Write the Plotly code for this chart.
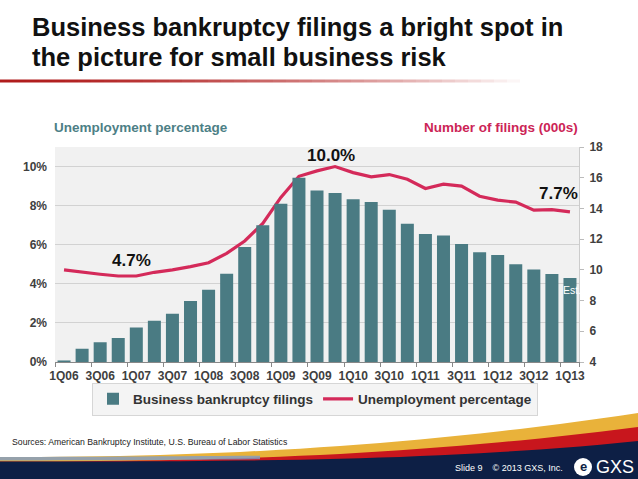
import plotly.graph_objects as go

quarters = ["1Q06","2Q06","3Q06","4Q06","1Q07","2Q07","3Q07","4Q07",
            "1Q08","2Q08","3Q08","4Q08","1Q09","2Q09","3Q09","4Q09",
            "1Q10","2Q10","3Q10","4Q10","1Q11","2Q11","3Q11","4Q11",
            "1Q12","2Q12","3Q12","4Q12","1Q13"]
filings = [4.1, 4.87, 5.28, 5.56, 6.25, 6.69, 7.14, 7.97,
           8.71, 9.75, 11.49, 12.9, 14.3, 16.0, 15.17, 15.0,
           14.59, 14.42, 13.92, 13.0, 12.33, 12.24, 11.68, 11.14,
           10.97, 10.36, 10.03, 9.73, 9.47]
unemployment = [4.71, 4.59, 4.49, 4.40, 4.40, 4.59, 4.71, 4.88,
                5.08, 5.56, 6.19, 7.09, 8.42, 9.5, 9.78, 10.0,
                9.69, 9.47, 9.59, 9.35, 8.88, 9.10, 9.0, 8.48,
                8.28, 8.18, 7.77, 7.8, 7.68]
unemployment = [v / 100 for v in unemployment]
tick_labels = quarters[::2]

W, H = 638, 479
L, R, T, B = 55, 59, 147, 117
PW, PH = W - L - R, H - T - B
def px(x):
    return (x - L) / PW
def py(y):
    return (H - B - y) / PH

BAR = "#4a7b83"
LINE = "#d42a5a"

fig = go.Figure()
fig.add_trace(go.Bar(x=quarters, y=filings, yaxis="y2", marker_color=BAR,
                     marker_line_width=0, name="<b>Business bankruptcy filings</b>"))
fig.add_trace(go.Scatter(x=quarters, y=unemployment, yaxis="y", mode="lines",
                         line=dict(color=LINE, width=3.2), name="<b>Unemployment percentage</b>"))

shapes = []
# title underline gradient
n = 40
for i in range(n):
    x0 = i * 520 / n
    x1 = (i + 1) * 520 / n
    op = max(0.0, 1 - (i / n) ** 1.6)
    shapes.append(dict(type="rect", xref="paper", yref="paper",
                       x0=px(x0), x1=px(x1), y0=py(82.5), y1=py(79.5),
                       fillcolor="#b01c1c", opacity=op, line_width=0, layer="above"))
# footer: navy band, red and gold swoosh
def path(points_top, points_bottom):
    pts = points_top + points_bottom[::-1]
    s = "M " + " L ".join(f"{px(x):.5f},{py(y):.5f}" for x, y in pts) + " Z"
    return s
xs = list(range(0, 639, 20)) + [638]
def curve(x, y_left, y_right, power):
    t = x / 638
    return y_left + (y_right - y_left) * t ** power
gold_top = [(x, curve(x, 457, 413, 2.2)) for x in xs]
red_top = [(x, curve(x, 461.5, 427, 2.4)) for x in xs]
navy_top = [(x, curve(x, 461.5, 441, 3.2)) for x in xs]
bottom = [(x, 480) for x in xs]
shapes.append(dict(type="path", xref="paper", yref="paper", path=path(gold_top, bottom),
                   fillcolor="#e9b23a", line_width=0, layer="above"))
shapes.append(dict(type="path", xref="paper", yref="paper", path=path(red_top, bottom),
                   fillcolor="#c8161d", line_width=0, layer="above"))
shapes.append(dict(type="path", xref="paper", yref="paper", path=path(navy_top, bottom),
                   fillcolor="#0d1f45", line_width=0, layer="above"))
blue_top = [(x, curve(x, 457, 452, 1.5)) for x in range(0, 261, 20)]
blue_bot = [(x, curve(x, 460.5, 456, 1.5)) for x in range(0, 261, 20)]
shapes.append(dict(type="path", xref="paper", yref="paper", path=path(blue_top, blue_bot),
                   fillcolor="#7f9cc8", opacity=0.8, line_width=0, layer="above"))
# logo circle
shapes.append(dict(type="circle", xref="paper", yref="paper",
                   x0=px(574), x1=px(592), y0=py(476), y1=py(458),
                   fillcolor="white", line_width=0, layer="above"))

F = "Liberation Sans, Arial, sans-serif"
ann = []
ann.append(dict(text="<b>Business bankruptcy filings a bright spot in</b>", x=px(30), y=py(27),
                xanchor="left", yanchor="middle", font=dict(size=25.5, color="#111111", family=F)))
ann.append(dict(text="<b>the picture for small business risk</b>", x=px(30), y=py(57),
                xanchor="left", yanchor="middle", font=dict(size=25.5, color="#111111", family=F)))
ann.append(dict(text="<b>Unemployment percentage</b>", x=px(52), y=py(128),
                xanchor="left", yanchor="middle", font=dict(size=13.5, color="#4d7f86", family=F)))
ann.append(dict(text="<b>Number of filings (000s)</b>", x=px(580), y=py(128),
                xanchor="right", yanchor="middle", font=dict(size=13.5, color="#cc2456", family=F)))
ann.append(dict(text="<b>4.7%</b>", x=px(131), y=py(260), xanchor="center", yanchor="middle",
                font=dict(size=17, color="#111111", family=F)))
ann.append(dict(text="<b>10.0%</b>", x=px(331), y=py(155), xanchor="center", yanchor="middle",
                font=dict(size=17, color="#111111", family=F)))
ann.append(dict(text="<b>7.7%</b>", x=px(580), y=py(193), xanchor="right", yanchor="middle",
                font=dict(size=17, color="#111111", family=F)))
ann.append(dict(text="Est.", x=px(572), y=py(290), xanchor="center", yanchor="middle",
                font=dict(size=10.5, color="white", family=F)))
ann.append(dict(text="Sources: American Bankruptcy Institute, U.S. Bureau of Labor Statistics",
                x=px(10), y=py(442), xanchor="left", yanchor="middle",
                font=dict(size=8.7, color="#222222", family="Liberation Sans Narrow, Liberation Sans, Arial")))
ann.append(dict(text="Slide 9&nbsp;&nbsp;&nbsp;&nbsp;© 2013 GXS, Inc.", x=px(565), y=py(468),
                xanchor="right", yanchor="middle",
                font=dict(size=9, color="white", family="Liberation Sans Narrow, Liberation Sans, Arial")))
ann.append(dict(text="<b>e</b>", x=px(583), y=py(466.5), xanchor="center", yanchor="middle",
                font=dict(size=13, color="#0d1f45", family=F)))
ann.append(dict(text="GXS", x=px(594), y=py(467), xanchor="left", yanchor="middle",
                font=dict(size=18, color="white", family=F)))
for a in ann:
    a.update(xref="paper", yref="paper", showarrow=False)

fig.update_layout(
    width=W, height=H,
    margin=dict(l=L, r=R, t=T, b=B, autoexpand=False),
    paper_bgcolor="white", plot_bgcolor="#f1f1f1",
    bargap=0.28, font=dict(family=F, color="#404040"),
    showlegend=True,
    legend=dict(orientation="h", x=px(315), xanchor="center", y=py(399), yanchor="middle",
                bgcolor="#f4f4f4", bordercolor="#d6d6d6", borderwidth=1,
                font=dict(size=13.5, color="#333333", family=F), itemwidth=30,
                traceorder="normal"),
    xaxis=dict(type="category", categoryarray=quarters, tickmode="array",
               tickvals=tick_labels, ticktext=[f"<b>{t}</b>" for t in tick_labels],
               tickangle=0, ticklabelstandoff=3,
               ticks="outside", ticklen=4, tickcolor="#888888", tickson="boundaries",
               showline=True, linecolor="#888888", mirror=False,
               tickfont=dict(size=12, color="#404040"), showgrid=False),
    yaxis=dict(range=[0, 0.11], tickvals=[0, 0.02, 0.04, 0.06, 0.08, 0.10],
               ticktext=["<b>0%</b>", "<b>2%</b>", "<b>4%</b>", "<b>6%</b>", "<b>8%</b>", "<b>10%</b>"],
               showgrid=True, gridcolor="#d2d2d2", gridwidth=1, zeroline=False,
               ticklabelstandoff=7,
               tickfont=dict(size=12, color="#404040"), ticks="", showline=False),
    yaxis2=dict(range=[4, 18], overlaying="y", side="right",
                ticktext=[f"<b>{v}</b>" for v in range(4, 19, 2)], tickvals=list(range(4, 19, 2)),
                showgrid=False, zeroline=False, ticks="outside", ticklen=4, tickcolor="#bbbbbb",
                showline=True, linecolor="#cccccc", ticklabelstandoff=3,
                tickfont=dict(size=12, color="#404040")),
    shapes=shapes, annotations=ann,
)
fig.write_html("out.html", config={"displayModeBar": False},
               post_script="document.body.style.margin='0';document.body.style.overflow='hidden';")
